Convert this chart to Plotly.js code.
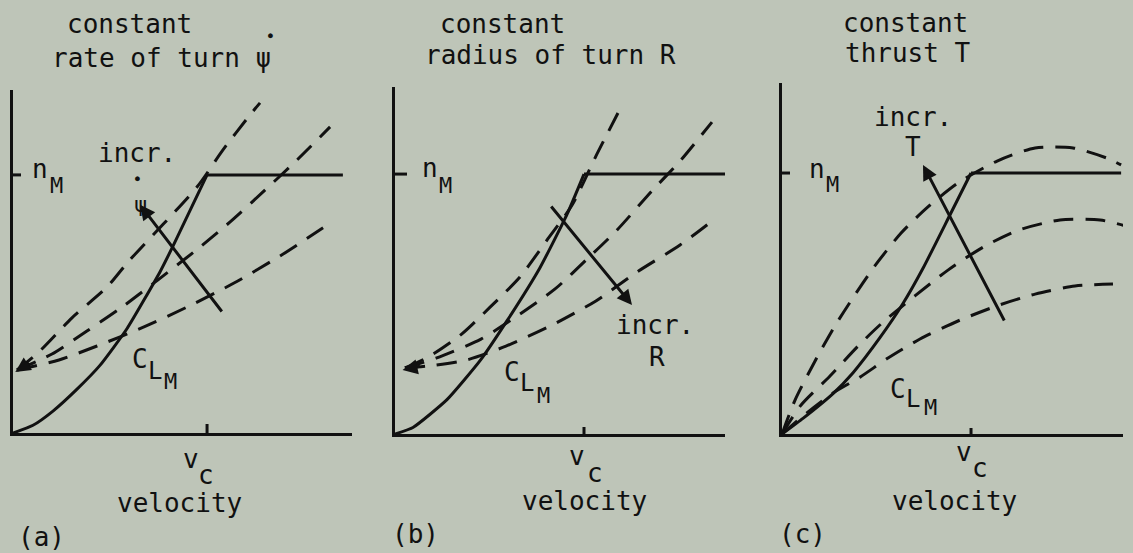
<!DOCTYPE html>
<html>
<head>
<meta charset="utf-8">
<script src="https://cdn.plot.ly/plotly-3.0.1.min.js"></script>
<style>
  html, body { margin: 0; padding: 0; background: #bec5b8; }
  #chart { width: 1133px; height: 553px; }
</style>
</head>
<body>
<div id="chart"></div>
<script>
// Velocity in units of v_c, load factor in units of n_M.
const vC = 1, nM = 1;

// (a) constant rate of turn
const clmA_v = [0, 0.103, 0.206, 0.330, 0.448, 0.588, 0.758, 0.825, 1.0];
const clmA_n = [0, 0.030, 0.085, 0.170, 0.262, 0.405, 0.625, 0.725, 1.0];
const limA_v = [1.0, 1.70];
const turnA1_v = [0.021, 0.139, 0.304, 0.485, 0.593, 0.948, 1.082, 1.222, 1.273];
const turnA1_n = [0.244, 0.318, 0.446, 0.566, 0.663, 0.953, 1.097, 1.233, 1.279];
const turnA2_v = [0.021, 0.201, 0.381, 0.562, 0.933, 1.119, 1.294, 1.464, 1.634];
const turnA2_n = [0.244, 0.306, 0.395, 0.488, 0.702, 0.818, 0.938, 1.058, 1.186];
const turnA3_v = [0.021, 0.237, 0.433, 0.675, 0.897, 1.139, 1.376, 1.598];
const turnA3_n = [0.244, 0.283, 0.337, 0.411, 0.488, 0.581, 0.686, 0.795];

// (b) constant radius of turn
const clmB_v = [0, 0.095, 0.275, 0.450, 0.593, 0.767, 0.910, 1.0];
const clmB_n = [0, 0.025, 0.132, 0.282, 0.436, 0.640, 0.845, 1.0];
const limB_v = [1.0, 1.75];
const radB1_v = [0.053, 0.185, 0.354, 0.503, 0.661, 0.804, 0.937, 1.063, 1.196];
const radB1_n = [0.254, 0.300, 0.385, 0.488, 0.604, 0.746, 0.881, 1.069, 1.258];
const radB2_v = [0.053, 0.217, 0.455, 0.646, 0.847, 1.016, 1.175, 1.354, 1.513, 1.677];
const radB2_n = [0.254, 0.292, 0.365, 0.454, 0.558, 0.673, 0.785, 0.931, 1.054, 1.200];
const radB3_v = [0.053, 0.212, 0.381, 0.587, 0.831, 1.063, 1.280, 1.508, 1.698];
const radB3_n = [0.254, 0.265, 0.285, 0.338, 0.419, 0.512, 0.623, 0.727, 0.831];

// (c) constant thrust
const clmC_v = [0, 0.111, 0.270, 0.376, 0.519, 0.640, 0.746, 0.889, 1.0];
const clmC_n = [0, 0.060, 0.155, 0.235, 0.370, 0.500, 0.635, 0.840, 1.0];
const limC_v = [1.0, 1.794];
const thrC1_v = [0, 0.069, 0.175, 0.280, 0.360, 0.492, 0.630, 0.772, 0.931, 1.138, 1.339, 1.540, 1.720, 1.794];
const thrC1_n = [0, 0.130, 0.280, 0.414, 0.505, 0.645, 0.770, 0.870, 0.962, 1.046, 1.096, 1.096, 1.057, 1.031];
const thrC2_v = [0, 0.101, 0.254, 0.397, 0.529, 0.878, 1.074, 1.254, 1.471, 1.683, 1.820];
const thrC2_n = [0, 0.111, 0.222, 0.333, 0.425, 0.628, 0.720, 0.782, 0.820, 0.820, 0.797];
const thrC3_v = [0, 0.130, 0.270, 0.413, 0.561, 0.730, 0.931, 1.148, 1.339, 1.550, 1.751];
const thrC3_n = [0, 0.080, 0.157, 0.218, 0.291, 0.364, 0.433, 0.494, 0.536, 0.567, 0.575];

const W = 1133, H = 553;
const INK = '#111111';
const FONT = 'DejaVu Sans Mono, monospace';
const DASH = '20px,12px';

const solid = (x, y, ax, shape) => ({
  type: 'scatter', mode: 'lines', x, y, xaxis: 'x' + ax, yaxis: 'y' + ax,
  line: { color: INK, width: 3, shape: shape || 'spline', smoothing: 0.5 },
  hoverinfo: 'skip', showlegend: false
});
const dashed = (x, y, ax) => ({
  type: 'scatter', mode: 'lines', x, y, xaxis: 'x' + ax, yaxis: 'y' + ax,
  line: { color: INK, width: 3, dash: DASH, shape: 'spline', smoothing: 0.7 },
  hoverinfo: 'skip', showlegend: false
});
const flat = (xs) => xs.map(() => nM);

const data = [
  solid(clmA_v, clmA_n, ''), solid(limA_v, flat(limA_v), '', 'linear'),
  dashed(turnA1_v, turnA1_n, ''), dashed(turnA2_v, turnA2_n, ''), dashed(turnA3_v, turnA3_n, ''),
  solid(clmB_v, clmB_n, '2'), solid(limB_v, flat(limB_v), '2', 'linear'),
  dashed(radB1_v, radB1_n, '2'), dashed(radB2_v, radB2_n, '2'), dashed(radB3_v, radB3_n, '2'),
  solid(clmC_v, clmC_n, '3'), solid(limC_v, flat(limC_v), '3', 'linear'),
  dashed(thrC1_v, thrC1_n, '3'), dashed(thrC2_v, thrC2_n, '3'), dashed(thrC3_v, thrC3_n, '3')
];

// axis frames (pixel boxes of each panel)
const frames = [
  { ax: '',  x: [13, 352],  y: [433, 90], xr: [0, 1.747], yr: [0, 1.329] },
  { ax: '2', x: [395, 725], y: [434, 87], xr: [0, 1.746], yr: [0, 1.335] },
  { ax: '3', x: [782, 1123], y: [434, 83], xr: [0, 1.804], yr: [0, 1.345] }
];

const layout = {
  width: W, height: H,
  margin: { l: 0, r: 0, t: 0, b: 0 },
  paper_bgcolor: '#bec5b8', plot_bgcolor: 'rgba(0,0,0,0)',
  showlegend: false,
  annotations: [], shapes: []
};

frames.forEach(f => {
  const axis = {
    showline: true, linecolor: INK, linewidth: 3,
    showgrid: false, zeroline: false, showticklabels: false, ticks: '',
    fixedrange: true
  };
  layout['xaxis' + f.ax] = Object.assign({}, axis, {
    domain: [f.x[0] / W, f.x[1] / W], range: f.xr, anchor: 'y' + f.ax
  });
  layout['yaxis' + f.ax] = Object.assign({}, axis, {
    domain: [1 - f.y[0] / H, 1 - f.y[1] / H], range: f.yr, anchor: 'x' + f.ax
  });
});

// crossing tick marks at v_c and n_M
const tickSpec = [
  { ax: '',  vUp: 9, vDn: -12, nL: -9, nR: 8 },
  { ax: '2', vUp: 7, vDn: -6,  nL: -6, nR: 12 },
  { ax: '3', vUp: 6, vDn: -4,  nL: -5, nR: 8 }
];
tickSpec.forEach(t => {
  layout.shapes.push({
    type: 'line', xref: 'x' + t.ax, yref: 'y' + t.ax,
    x0: vC, x1: vC, ysizemode: 'pixel', yanchor: 0, y0: t.vUp, y1: t.vDn,
    line: { color: INK, width: 3 }
  });
  layout.shapes.push({
    type: 'line', xref: 'x' + t.ax, yref: 'y' + t.ax,
    y0: nM, y1: nM, xsizemode: 'pixel', xanchor: 0, x0: t.nL, x1: t.nR,
    line: { color: INK, width: 3 }
  });
});

// text placed on the page grid
function label(text, x, y, size, anchor) {
  layout.annotations.push({
    text, x: x / W, y: 1 - y / H, xref: 'paper', yref: 'paper',
    xanchor: anchor || 'center', yanchor: 'middle', showarrow: false,
    font: { family: FONT, size: size || 26, color: INK }
  });
}
// arrows drawn in data space of a panel
function arrow(ax, tip, tail, head) {
  layout.annotations.push({
    text: '', xref: 'x' + ax, yref: 'y' + ax, axref: 'x' + ax, ayref: 'y' + ax,
    x: tip[0], y: tip[1], ax: tail[0], ay: tail[1],
    showarrow: true, arrowhead: head || 2, arrowsize: 1, arrowwidth: 3, arrowcolor: INK
  });
}

// (a)
label('constant', 65, 24, 26, 'left');
label('rate of turn ψ', 50, 58, 26, 'left');
label('●', 270, 35, 8);
label('incr.', 137, 153);
label('●', 137, 178, 8);
label('ψ', 140, 204, 22);
label('n', 40, 169);
label('M', 56, 185, 22);
label('C', 140, 359);
label('L', 155, 371, 24);
label('M', 170, 381, 22);
label('v', 191, 459);
label('c', 206, 475);
label('velocity', 179, 503);
label('(a)', 42, 537);
arrow('', [0.655, 0.884], [1.082, 0.465]);
arrow('', [0.012, 0.236], [0.09, 0.275], 2);

// (b)
label('constant', 438, 24, 26, 'left');
label('radius of turn R', 423, 55, 26, 'left');
label('incr.', 655, 325);
label('R', 657, 357);
label('n', 430, 168);
label('M', 445, 185, 22);
label('C', 512, 372);
label('L', 527, 383, 24);
label('M', 543, 395, 22);
label('v', 577, 456);
label('c', 595, 473);
label('velocity', 584, 501);
label('(b)', 415, 534);
arrow('2', [1.254, 0.496], [0.820, 0.881]);
arrow('2', [0.040, 0.246], [0.14, 0.262], 2);

// (c)
label('constant', 841, 23, 26, 'left');
label('thrust T', 843, 53, 26, 'left');
label('incr.', 913, 117);
label('T', 913, 147);
label('n', 817, 169);
label('M', 832, 184, 22);
label('C', 898, 389);
label('L', 913, 399, 24);
label('M', 930, 407, 22);
label('v', 964, 452);
label('c', 980, 468);
label('velocity', 954, 501);
label('(c)', 802, 534);
arrow('3', [0.746, 1.031], [1.180, 0.429]);

Plotly.newPlot('chart', data, layout, { staticPlot: true, displayModeBar: false });
</script>
</body>
</html>
